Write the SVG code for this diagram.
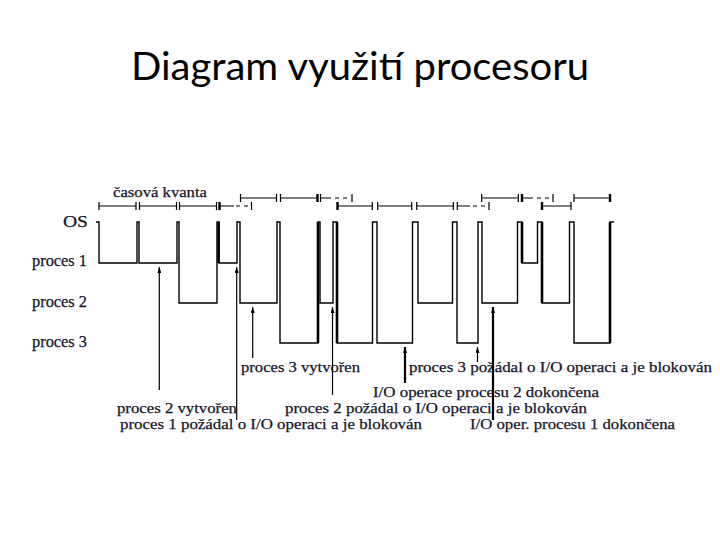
<svg xmlns="http://www.w3.org/2000/svg" width="720" height="540" viewBox="0 0 720 540">
<defs>
<marker id="ah" viewBox="0 0 6 4" refX="6" refY="2" markerWidth="6" markerHeight="4" markerUnits="userSpaceOnUse" orient="auto">
<path d="M0,0 L6,2 L0,4 z" fill="#000"/>
</marker>
</defs>
<style>
.title{font-family:Lato,"Open Sans","Liberation Sans",sans-serif;font-size:38px;fill:#000}
.wave{fill:none;stroke:#000;stroke-width:1.4}
.thick{fill:none;stroke:#000;stroke-width:2.6}
.q{fill:none;stroke:#000;stroke-width:1.2}
.qt{fill:none;stroke:#000;stroke-width:2.4}
.qd{fill:none;stroke:#000;stroke-width:1.2;stroke-dasharray:4 4}
.axis{font-family:"Liberation Serif","Times New Roman",serif;font-size:16px;fill:#16162a;stroke:#16162a;stroke-width:0.25}
.lbl{font-family:"Liberation Serif","Times New Roman",serif;font-size:15px;fill:#16162a;stroke:#16162a;stroke-width:0.25}
.arrow{fill:none;stroke:#000;stroke-width:1.2;marker-end:url(#ah)}
.bold{stroke-width:2.2}
</style>
<rect width="720" height="540" fill="#fff"/>
<g id="title">
<text class="title" x="131" y="80" textLength="458" lengthAdjust="spacingAndGlyphs">Diagram využití procesoru</text>
</g>
<g id="axis-labels">
<text class="lbl" x="113" y="197" textLength="94" lengthAdjust="spacingAndGlyphs">časová kvanta</text>
<text class="axis" x="63" y="227" textLength="25" lengthAdjust="spacingAndGlyphs" font-size="17">OS</text>
<text class="axis" x="32" y="266" textLength="55" lengthAdjust="spacingAndGlyphs">proces 1</text>
<text class="axis" x="32" y="307" textLength="55" lengthAdjust="spacingAndGlyphs">proces 2</text>
<text class="axis" x="32" y="347" textLength="55" lengthAdjust="spacingAndGlyphs">proces 3</text>
</g>
<g id="quanta">
<path class="q" d="M99,202V210M99,206H136M136,202V210 M139.5,202V210M139.5,206H176.5M176.5,202V210 M179.5,202V210M179.5,206H216.5M216.5,202V210 M219,206H234M251.5,202V210"/>
<path class="qt" d="M219.5,202V210"/>
<path class="qd" d="M236,206H250"/>
<path class="q" d="M240.5,194V202M240.5,198H276.5M276.5,194V202 M280.5,194V202M280.5,198H317 M320.5,194V202M320.5,198H331M352,194V202"/>
<path class="qt" d="M317.5,194V202"/>
<path class="qd" d="M335,198H350"/>
<path class="q" d="M337,206H372.3M372.3,202V210 M377.7,202V210M377.7,206H411.7M411.7,202V210 M416.7,202V210M416.7,206H453.3M453.3,202V210 M457.3,202V210M457.3,206H470M489,202V210"/>
<path class="qt" d="M337.5,202V210"/>
<path class="qd" d="M473,206H488"/>
<path class="q" d="M481.7,194V202M481.7,198H518.3M518.3,194V202 M522,198H533M553,194V202"/>
<path class="qt" d="M522,194V202"/>
<path class="qd" d="M537,198H552"/>
<path class="q" d="M542,206H571M571,202V210"/>
<path class="qt" d="M542,202V210"/>
<path class="q" d="M574,194V202M574,198H610"/>
<path class="qt" d="M610,194V202"/>
</g>
<g id="waveform">
<path class="wave" d="M96,222H99V263H137V222H139V263H177V222H179V303H217V222H219V263H237V222H240V303H277V222H280V343H318V222H320V303H333V222H337V343H372.5V222H377V343H412.5V222H418V303H452.5V222H457V343H478V222H482V303H517.5V222H522V263H537.5V222H542V303H569.5V222H574V343H610V222H614"/>
<path class="thick" d="M218.5,222V263 M318,222V343 M337,222V343 M522,222V263 M542,222V303 M610,222V343"/>
</g>
<g id="connectors">
<line class="arrow" x1="159.3" y1="390" x2="159.3" y2="267"/>
<line class="arrow" x1="236.7" y1="420" x2="236.7" y2="267"/>
<line class="arrow" x1="252.7" y1="358" x2="252.7" y2="307"/>
<line class="arrow" x1="332.5" y1="395" x2="332.5" y2="307"/>
<line class="arrow bold" x1="405" y1="383" x2="405" y2="347"/>
<line class="arrow" x1="477.5" y1="362" x2="477.5" y2="347"/>
<line class="arrow bold" x1="493" y1="420" x2="493" y2="307"/>
</g>
<g id="ev-p3-created"><text class="lbl" x="241" y="372" textLength="119" lengthAdjust="spacingAndGlyphs">proces 3 vytvořen</text></g>
<g id="ev-p3-io"><text class="lbl" x="409" y="372" textLength="303" lengthAdjust="spacingAndGlyphs">proces 3 požádal o I/O operaci a je blokován</text></g>
<g id="ev-p2-io-done"><text class="lbl" x="373" y="397" textLength="226" lengthAdjust="spacingAndGlyphs">I/O operace procesu 2 dokončena</text></g>
<g id="ev-p2-created"><text class="lbl" x="117" y="413" textLength="120" lengthAdjust="spacingAndGlyphs">proces 2 vytvořen</text></g>
<g id="ev-p2-io"><text class="lbl" x="285" y="413" textLength="302" lengthAdjust="spacingAndGlyphs">proces 2 požádal o I/O operaci a je blokován</text></g>
<g id="ev-p1-io"><text class="lbl" x="120" y="429" textLength="302" lengthAdjust="spacingAndGlyphs">proces 1 požádal o I/O operaci a je blokován</text></g>
<g id="ev-p1-io-done"><text class="lbl" x="470" y="429" textLength="205" lengthAdjust="spacingAndGlyphs">I/O oper. procesu 1 dokončena</text></g>
</svg>
